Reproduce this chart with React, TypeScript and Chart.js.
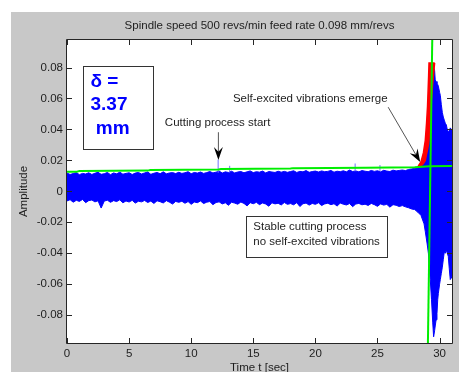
import React, { useEffect, useRef } from "react";
import { Chart, registerables } from "chart.js";
Chart.register(...registerables);

// ---------------- data ----------------
const titleText = "Spindle speed 500 revs/min feed rate 0.098 mm/revs";
const xAxisTitle = "Time t [sec]";
const yAxisTitle = "Amplitude";

const xTickValues = [0, 5, 10, 15, 20, 25, 30];
const xTickLabels = ["0", "5", "10", "15", "20", "25", "30"];
const yTickValues = [-0.08, -0.06, -0.04, -0.02, 0, 0.02, 0.04, 0.06, 0.08];
const yTickLabels = ["-0.08", "-0.06", "-0.04", "-0.02", "0", "0.02", "0.04", "0.06", "0.08"];

// stable part of the signal envelope, sampled every 0.25 s from 0 s
const stableStep = 0.25;
const stableUpper = [
  0.0118, 0.0109, 0.0115, 0.0121, 0.0108, 0.0116, 0.0112, 0.012, 0.0109, 0.0117, 0.0123, 0.011,
  0.0114, 0.0122, 0.0108, 0.0119, 0.0113, 0.0124, 0.0111, 0.0116, 0.012, 0.0109, 0.0118, 0.0122,
  0.0112, 0.0119, 0.0125, 0.011, 0.0117, 0.0122, 0.0114, 0.0126, 0.0113, 0.0119, 0.0121, 0.0115,
  0.0123, 0.0116, 0.012, 0.0127, 0.0114, 0.0122, 0.0118, 0.0125, 0.0116, 0.0121, 0.0128, 0.0119,
  0.0124, 0.0131, 0.0118, 0.0126, 0.0122, 0.013, 0.0119, 0.0125, 0.0128, 0.012, 0.0126, 0.0132,
  0.0121, 0.0127, 0.0124, 0.0131, 0.0119, 0.0128, 0.0125, 0.0122, 0.013, 0.0124, 0.0129, 0.0123,
  0.0128, 0.0133, 0.0122, 0.0129, 0.0126, 0.0134, 0.0123, 0.0128, 0.0131, 0.0125, 0.0132, 0.0127,
  0.0129, 0.0135, 0.0124, 0.013, 0.0127, 0.0133, 0.0126, 0.0138, 0.0128, 0.0132, 0.0126, 0.0134,
  0.013, 0.0127, 0.0135, 0.0129, 0.0133, 0.0126, 0.0136, 0.0131, 0.0128, 0.0137, 0.0132, 0.0135,
  0.0138, 0.0134, 0.0141, 0.0145, 0.0148, 0.016, 0.0175,
];
const stableLower = [
  -0.0062, -0.0054, -0.007, -0.0058, -0.0065, -0.0052, -0.0073, -0.006, -0.0056, -0.0068, -0.0061, -0.0108,
  -0.0063, -0.0057, -0.0071, -0.006, -0.0066, -0.0055, -0.0074, -0.0062, -0.0069, -0.0058, -0.0076, -0.0064,
  -0.0068, -0.0059, -0.0072, -0.0063, -0.0078, -0.0061, -0.0067, -0.0075, -0.006, -0.007, -0.0082, -0.0065,
  -0.0071, -0.0064, -0.0077, -0.0066, -0.0084, -0.0069, -0.0073, -0.0062, -0.0079, -0.007, -0.0066, -0.0086,
  -0.0072, -0.0068, -0.0081, -0.0074, -0.009, -0.007, -0.0076, -0.0083, -0.0069, -0.0078, -0.0094, -0.0073,
  -0.008, -0.0071, -0.0086, -0.0075, -0.0082, -0.0096, -0.0074, -0.0081, -0.0077, -0.0088, -0.0072, -0.0084,
  -0.0079, -0.0087, -0.0073, -0.0098, -0.008, -0.0076, -0.0089, -0.0078, -0.0084, -0.0074, -0.0092, -0.0081,
  -0.0077, -0.0086, -0.008, -0.0095, -0.0076, -0.0083, -0.0088, -0.0079, -0.0099, -0.0082, -0.0078, -0.0087,
  -0.0083, -0.0091, -0.0078, -0.0086, -0.0097, -0.0081, -0.0089, -0.0084, -0.0102, -0.0086, -0.009, -0.0098,
  -0.0092, -0.01, -0.0106, -0.0114, -0.0118, -0.0135, -0.0155,
];

// chatter part of the signal envelope
const chatterTime = [
  28.75, 28.85, 29.0, 29.1, 29.25, 29.35, 29.45, 29.52, 29.6, 29.65, 29.72, 29.79, 29.85, 29.9,
  30.0, 30.06, 30.14, 30.22, 30.3, 30.38, 30.46, 30.54, 30.62, 30.7, 30.78, 30.86, 30.94, 31.0,
];
const chatterUpper = [
  0.02, 0.024, 0.03, 0.038, 0.05, 0.063, 0.074, 0.08, 0.078, 0.072, 0.071, 0.07, 0.069, 0.068,
  0.064, 0.062, 0.056, 0.051, 0.048, 0.046, 0.044, 0.043, 0.04, 0.0385, 0.039, 0.041, 0.04, 0.04,
];
const chatterLower = [
  -0.021, -0.026, -0.034, -0.04, -0.057, -0.07, -0.085, -0.094, -0.09, -0.087, -0.083, -0.079, -0.07, -0.066,
  -0.06, -0.057, -0.053, -0.049, -0.044, -0.039, -0.04, -0.038, -0.04, -0.042, -0.05, -0.057, -0.056, -0.055,
];

// isolated spikes above the band
const spikeTime = [12.17, 13.1, 23.2, 25.2];
const spikeBase = [0.012, 0.0122, 0.013, 0.013];
const spikeTop = [0.0205, 0.0165, 0.018, 0.017];

// red emerging-vibration envelope
const redTime = [28.28, 28.5, 28.7, 28.85, 28.95, 29.03, 29.12, 29.15, 29.3, 29.45, 29.6];
const redTop = [0.0163, 0.019, 0.025, 0.033, 0.044, 0.055, 0.075, 0.083, 0.083, 0.083, 0.083];
const redBottom = [0.0163, 0.0165, 0.018, 0.02, 0.024, 0.027, 0.031, 0.033, 0.055, 0.07, 0.083];

// green threshold line and onset marker
const greenTime = [0, 0.8, 1.0, 6.5, 6.7, 12.2, 12.4, 18.0, 18.2, 24.0, 28.0, 29.2, 31.0];
const greenLevel = [0.0126, 0.0127, 0.0132, 0.0134, 0.0138, 0.0141, 0.0145, 0.0147, 0.015, 0.0152, 0.0156, 0.0162, 0.0163];
const onsetTime = [29.06, 29.41];
const onsetLevel = [-0.098, 0.0978];

// annotations
const deltaLines = ["δ =", "3.37", " mm"];
const stableLines = ["Stable cutting process", "no self-excited vibrations"];
const cuttingLabel = "Cutting process start";
const emergeLabel = "Self-excited vibrations emerge";

// ---------------- chart ----------------
const W = 459;
const H = 372;
const FONT = "'Liberation Sans', Arial, sans-serif";
const TXT = "#1e1e1e";

function drawArrow(ctx: CanvasRenderingContext2D, x1: number, y1: number, x2: number, y2: number) {
  const L = 13;
  const hw = 4.5;
  const ang = Math.atan2(y2 - y1, x2 - x1);
  const ux = Math.cos(ang), uy = Math.sin(ang);
  const px = -uy, py = ux;
  ctx.save();
  ctx.strokeStyle = "#555";
  ctx.lineWidth = 1;
  ctx.beginPath();
  ctx.moveTo(x1, y1);
  ctx.lineTo(x2 - ux * L * 0.6, y2 - uy * L * 0.6);
  ctx.stroke();
  ctx.fillStyle = "#000";
  ctx.beginPath();
  ctx.moveTo(x2, y2);
  ctx.lineTo(x2 - ux * L + px * hw, y2 - uy * L + py * hw);
  ctx.lineTo(x2 - ux * L * 0.65, y2 - uy * L * 0.65);
  ctx.lineTo(x2 - ux * L - px * hw, y2 - uy * L - py * hw);
  ctx.closePath();
  ctx.fill();
  ctx.restore();
}

const figurePlugin = {
  id: "figure",
  beforeDraw(chart: any) {
    const { ctx, chartArea: a } = chart;
    ctx.save();
    ctx.fillStyle = "#fff";
    ctx.fillRect(0, 0, W, H);
    ctx.fillStyle = "#c8c8c8";
    ctx.fillRect(11, 12, W - 11, H - 12);
    ctx.fillStyle = "#fff";
    ctx.fillRect(a.left, a.top, a.right - a.left, a.bottom - a.top);
    ctx.restore();
  },
  afterDatasetsDraw(chart: any) {
    const { ctx, chartArea: a, scales } = chart;
    const xs = scales.x, ys = scales.y;
    const X = (v: number) => xs.getPixelForValue(v);
    const Y = (v: number) => ys.getPixelForValue(v);
    ctx.save();
    // axes box + inward ticks
    ctx.strokeStyle = "#262626";
    ctx.lineWidth = 1;
    ctx.beginPath();
    ctx.rect(Math.round(a.left) - 0.5, Math.round(a.top) - 0.5, Math.round(a.right - a.left) + 1, Math.round(a.bottom - a.top) + 1);
    ctx.stroke();
    ctx.beginPath();
    const tl = 5;
    xTickValues.forEach((v) => {
      const x = Math.round(X(v)) + 0.5;
      ctx.moveTo(x, a.bottom);
      ctx.lineTo(x, a.bottom - tl);
      ctx.moveTo(x, a.top);
      ctx.lineTo(x, a.top + tl);
    });
    yTickValues.forEach((v) => {
      const y = Math.round(Y(v)) + 0.5;
      ctx.moveTo(a.left, y);
      ctx.lineTo(a.left + tl, y);
      ctx.moveTo(a.right, y);
      ctx.lineTo(a.right - tl, y);
    });
    ctx.stroke();

    // titles
    ctx.fillStyle = TXT;
    ctx.font = `11.5px ${FONT}`;
    ctx.textAlign = "center";
    ctx.textBaseline = "middle";
    ctx.fillText(titleText, (a.left + a.right) / 2, 26);
    ctx.textBaseline = "alphabetic";
    ctx.fillText(xAxisTitle, (a.left + a.right) / 2, 371);
    ctx.save();
    ctx.translate(27, (a.top + a.bottom) / 2);
    ctx.rotate(-Math.PI / 2);
    ctx.fillText(yAxisTitle, 0, 0);
    ctx.restore();

    // delta box
    const bx1 = X(1.27), bx2 = X(6.91), by1 = Y(0.0809), by2 = Y(0.0273);
    ctx.fillStyle = "#fff";
    ctx.fillRect(bx1, by1, bx2 - bx1, by2 - by1);
    ctx.strokeStyle = "#333";
    ctx.strokeRect(Math.round(bx1) + 0.5, Math.round(by1) + 0.5, Math.round(bx2 - bx1), Math.round(by2 - by1));
    ctx.fillStyle = "#0000ff";
    ctx.font = `bold 19px ${FONT}`;
    ctx.textAlign = "left";
    ctx.textBaseline = "middle";
    const deltaY = [0.0705, 0.0557, 0.0402];
    deltaLines.forEach((s, i) => ctx.fillText(s, X(1.89), Y(deltaY[i])));

    // stable box
    const sx1 = X(14.41), sx2 = X(25.78), sy1 = Y(-0.016), sy2 = Y(-0.0425);
    ctx.fillStyle = "#fff";
    ctx.fillRect(sx1, sy1, sx2 - sx1, sy2 - sy1);
    ctx.strokeStyle = "#333";
    ctx.strokeRect(Math.round(sx1) + 0.5, Math.round(sy1) + 0.5, Math.round(sx2 - sx1), Math.round(sy2 - sy1));
    ctx.fillStyle = TXT;
    ctx.font = `11.5px ${FONT}`;
    const stableY = [-0.0231, -0.0328];
    stableLines.forEach((s, i) => ctx.fillText(s, X(15.0), Y(stableY[i])));

    // labels + arrows
    ctx.fillText(cuttingLabel, X(7.88), Y(0.0441));
    ctx.fillText(emergeLabel, X(13.36), Y(0.0596));
    drawArrow(ctx, X(12.19), Y(0.0382), X(12.19), Y(0.0202));
    drawArrow(ctx, X(25.86), Y(0.0544), X(28.44), Y(0.0189));
    ctx.restore();
  },
};

function pts(xs: number[], ys: number[]) {
  return xs.map((x, i) => ({ x, y: ys[i] }));
}

export default function App() {
  const ref = useRef<HTMLCanvasElement>(null);
  useEffect(() => {
    const canvas = ref.current!;
    const stableTime = stableUpper.map((_, i) => i * stableStep);
    const bandTime = stableTime.concat(chatterTime);
    const bandUpper = stableUpper.concat(chatterUpper);
    const bandLower = stableLower.concat(chatterLower);
    const spikeData: any[] = [];
    spikeTime.forEach((t, i) => {
      spikeData.push({ x: t, y: spikeBase[i] }, { x: t, y: spikeTop[i] }, { x: t, y: null });
    });
    const blue = "#0000ff";
    const chart = new Chart(canvas, {
      type: "line",
      data: {
        datasets: [
          { data: pts(greenTime, greenLevel), borderColor: "#00ee00", borderWidth: 2, pointRadius: 0, order: 0 },
          { data: pts(onsetTime, onsetLevel), borderColor: "#00ee00", borderWidth: 2, pointRadius: 0, order: 0 },
          { data: pts(redTime, redTop), borderColor: "#ff0000", borderWidth: 1.5, pointRadius: 0, order: 1 },
          { data: pts(redTime, redBottom), borderColor: "#ff0000", borderWidth: 1.5, backgroundColor: "#ff0000", fill: "-1", pointRadius: 0, order: 1 },
          { data: spikeData, borderColor: "#7070ff", borderWidth: 1, pointRadius: 0, spanGaps: false, order: 2 },
          { data: pts(bandTime, bandUpper), borderColor: blue, borderWidth: 1, pointRadius: 0, order: 3 },
          { data: pts(bandTime, bandLower), borderColor: blue, borderWidth: 1, backgroundColor: blue, fill: "-1", pointRadius: 0, order: 3 },
        ] as any,
      },
      options: {
        responsive: false,
        animation: false,
        devicePixelRatio: 1,
        layout: { padding: { left: 0, top: 40, right: 7, bottom: 0 } },
        plugins: { legend: { display: false }, tooltip: { enabled: false }, title: { display: false } },
        elements: { line: { tension: 0 } },
        scales: {
          x: {
            type: "linear",
            min: 0,
            max: 31,
            afterFit: (s: any) => { s.height = 29; },
            afterBuildTicks: (s: any) => { s.ticks = xTickValues.map((v) => ({ value: v })); },
            grid: { display: false, drawTicks: false },
            border: { display: false },
            ticks: {
              padding: 4,
              color: TXT,
              font: { family: FONT, size: 11.5 },
              maxRotation: 0,
              autoSkip: false,
              callback: (_v: any, i: number) => xTickLabels[i],
            },
          },
          y: {
            type: "linear",
            min: -0.098,
            max: 0.0978,
            afterFit: (s: any) => { s.width = 67; },
            afterBuildTicks: (s: any) => { s.ticks = yTickValues.map((v) => ({ value: v })); },
            grid: { display: false, drawTicks: false },
            border: { display: false },
            ticks: {
              padding: 4,
              color: TXT,
              font: { family: FONT, size: 11.5 },
              autoSkip: false,
              callback: (_v: any, i: number) => yTickLabels[i],
            },
          },
        },
      } as any,
      plugins: [figurePlugin],
    });
    return () => chart.destroy();
  }, []);
  return (
    <div style={{ position: "fixed", left: 0, top: 0, width: W, height: H }}>
      <canvas ref={ref} width={W} height={H} style={{ display: "block", width: W, height: H }} />
    </div>
  );
}
